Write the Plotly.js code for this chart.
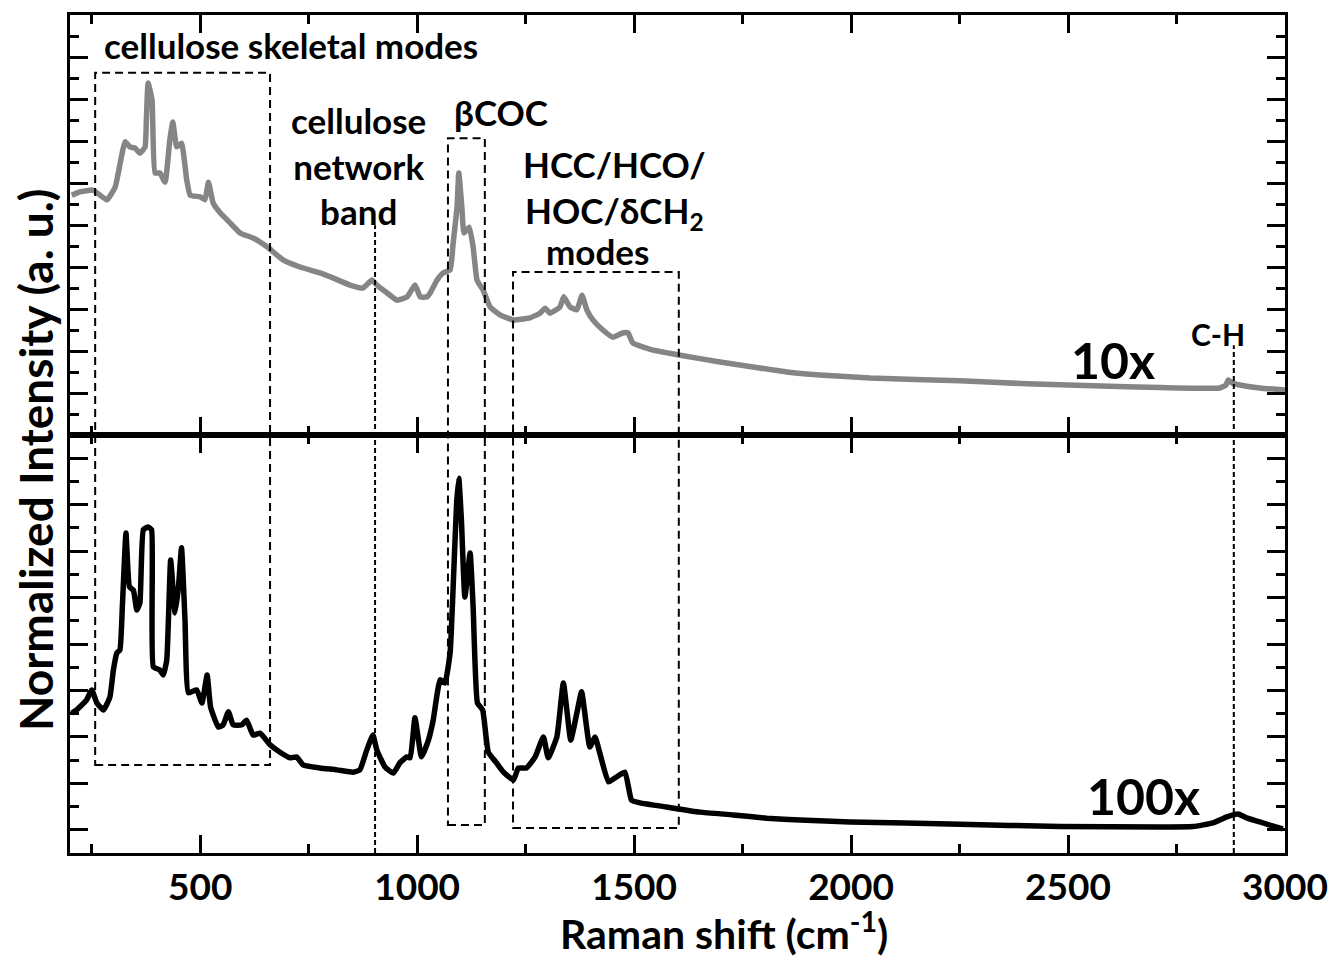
<!DOCTYPE html>
<html>
<head>
<meta charset="utf-8">
<script src="https://cdn.plot.ly/plotly-3.0.1.min.js"></script>
<style>html,body{margin:0;padding:0;background:#fff;}#chart{width:1334px;height:956px;}</style>
</head>
<body>
<div id="chart"></div>
<script>
// Raman shift (cm^-1) and normalized intensity (a.u.) — 10x (grey, upper panel)
const shift10x = [204,223,253,285,304,327,338,350,361,373,376,380,389,396,407,419,430,437,446,457,469,477,500,511,519,530,546,569,592,622,654,691,730,776,806,845,875,896,907,931,954,977,995,1007,1023,1030,1046,1060,1076,1083,1092,1096,1103,1108,1120,1129,1138,1152,1168,1191,1221,1260,1283,1295,1306,1329,1338,1352,1368,1380,1391,1405,1428,1451,1474,1486,1497,1544,1606,1698,1774,1852,1928,2044,2251,2405,2558,2712,2850,2864,2869,2878,2896,2942,3000];
const int10x = [5.71,5.79,5.83,5.60,5.90,6.98,6.86,6.83,6.71,6.86,7.5,8.38,7.98,6.24,6.24,6.02,7.02,7.45,6.86,6.95,6.07,5.71,5.67,5.60,6.02,5.52,5.29,5.05,4.81,4.69,4.48,4.17,4.00,3.86,3.74,3.57,3.50,3.69,3.57,3.38,3.21,3.29,3.57,3.29,3.29,3.38,3.69,3.86,3.93,4.57,5.43,6.24,5.43,4.81,4.95,4.48,3.69,3.45,3.05,2.86,2.74,2.79,2.90,3.02,2.90,3.05,3.29,3.05,2.98,3.33,2.98,2.74,2.50,2.33,2.43,2.43,2.19,2.02,1.90,1.74,1.62,1.50,1.43,1.36,1.29,1.22,1.17,1.13,1.12,1.19,1.31,1.24,1.19,1.12,1.07];

// 100x (black, lower panel)
const shift100x = [204,215,238,250,262,277,292,300,308,315,321,329,337,346,354,361,369,380,388,392,407,415,423,432,442,450,457,465,473,492,504,516,524,542,553,565,576,596,607,622,638,661,684,707,722,738,776,815,853,868,884,898,907,926,945,960,976,984,995,1010,1026,1037,1053,1064,1076,1083,1091,1096,1102,1110,1122,1129,1139,1151,1164,1183,1199,1222,1233,1252,1272,1291,1302,1322,1337,1354,1368,1379,1398,1410,1421,1441,1460,1479,1494,1514,1575,1652,1728,1806,1882,1998,2251,2481,2712,2788,2834,2866,2892,2913,2942,2965,2995];
const int100x = [3.01,3.08,3.29,3.51,3.23,3.08,3.36,3.94,4.31,4.37,5.38,6.89,5.73,5.66,5.23,5.38,6.96,7.02,6.96,4.01,3.94,3.83,4.16,6.31,5.17,5.73,6.57,5.02,3.45,3.51,3.23,3.83,3.14,2.71,2.76,3.04,2.76,2.76,2.86,2.54,2.58,2.33,2.17,2.05,2.07,1.89,1.83,1.79,1.74,1.79,2.22,2.54,2.22,1.85,1.72,1.94,2.07,2.05,2.91,2.07,2.43,2.86,3.73,3.66,4.31,5.73,7.54,8.07,7.17,5.51,6.46,5.30,3.23,3.08,2.17,1.94,1.74,1.57,1.83,1.83,2.07,2.50,2.05,2.50,3.66,2.43,3.01,3.47,2.28,2.50,2.15,1.53,1.64,1.74,1.14,1.08,0.99,0.88,0.82,0.75,0.71,0.67,0.62,0.57,0.56,0.57,0.65,0.78,0.84,0.75,0.67,0.60,0.52];

const xTickVals = [500,1000,1500,2000,2500,3000];
const xTickText = ["500","1000","1500","2000","2500","3000"];

const FONT = 'Lato, "Open Sans", sans-serif';
const bold = (size) => ({family: FONT, size: size, color: '#000', weight: 700});

const traces = [
  {x: shift10x, y: int10x, xaxis: 'x2', yaxis: 'y2', mode: 'lines', line: {color: '#858585', width: 5.5, shape: 'spline', smoothing: 0.4}, hoverinfo: 'skip'},
  {x: shift100x, y: int100x, xaxis: 'x', yaxis: 'y', mode: 'lines', line: {color: '#000', width: 5.5, shape: 'spline', smoothing: 0.4}, hoverinfo: 'skip'}
];

const xCommon = {
  range: [200, 3000], showgrid: false, zeroline: false,
  showline: true, linecolor: '#000', linewidth: 3, mirror: 'ticks',
  ticks: 'inside', ticklen: 18, tickwidth: 3, tickcolor: '#000',
  tickmode: 'array', tickvals: xTickVals, ticktext: xTickText,
  minor: {ticks: 'inside', dtick: 250, tick0: 0, ticklen: 9, tickwidth: 3, tickcolor: '#000', showgrid: false}
};
const yCommon = {
  showgrid: false, zeroline: false, showticklabels: false,
  showline: true, linecolor: '#000', linewidth: 3, mirror: 'ticks',
  ticks: 'inside', ticklen: 18, tickwidth: 3, tickcolor: '#000', fixedrange: true
};

const split = 418/838;
const dashBox = {type: 'rect', xref: 'x', yref: 'paper', line: {color: '#000', width: 2, dash: '8px,5px'}, fillcolor: 'rgba(0,0,0,0)'};
const dashLine = {type: 'line', xref: 'x', yref: 'paper', line: {color: '#000', width: 2, dash: '5px,3px'}};
const note = (text, x, y, size, extra) => Object.assign({text: text, xref: 'x', yref: 'paper', x: x, y: y, xanchor: 'center', yanchor: 'middle', showarrow: false, font: bold(size)}, extra || {});

const layout = {
  width: 1334, height: 956,
  margin: {l: 70, r: 49, t: 15, b: 103, pad: 0},
  paper_bgcolor: '#fff', plot_bgcolor: '#fff',
  showlegend: false,
  font: bold(30),
  xaxis: Object.assign({}, xCommon, {anchor: 'y', domain: [0, 1], tickfont: bold(37)}),
  xaxis2: Object.assign({}, xCommon, {anchor: 'y2', domain: [0, 1], matches: 'x', showticklabels: false}),
  yaxis: Object.assign({}, yCommon, {domain: [0, split], range: [0, 9], tickmode: 'linear', tick0: 0.5, dtick: 1,
    minor: {ticks: 'inside', tick0: 0, dtick: 1, ticklen: 9, tickwidth: 3, tickcolor: '#000', showgrid: false}}),
  yaxis2: Object.assign({}, yCommon, {domain: [split, 1], range: [0, 10], tickmode: 'linear', tick0: 0, dtick: 1,
    minor: {ticks: 'inside', tick0: 0, dtick: 0.5, ticklen: 9, tickwidth: 3, tickcolor: '#000', showgrid: false}}),
  shapes: [
    Object.assign({}, dashBox, {x0: 258, x1: 661, y0: 0.105, y1: 0.931}),
    Object.assign({}, dashBox, {x0: 1071, x1: 1156, y0: 0.0334, y1: 0.853}),
    Object.assign({}, dashBox, {x0: 1221, x1: 1603, y0: 0.0298, y1: 0.6933}),
    Object.assign({}, dashLine, {x0: 903, x1: 903, y0: 0, y1: 0.749}),
    Object.assign({}, dashLine, {x0: 2882, x1: 2882, y0: 0, y1: 0.606})
  ],
  annotations: [
    note('cellulose skeletal modes', 709, 0.964, 35),
    note('cellulose<br>network<br>band', 864, 0.82, 35),
    note('βCOC', 1193, 0.884, 35),
    note('HCC/HCO/<br>HOC/δCH<sub>2</sub>', 1454, 0.792, 35),
    note('modes', 1415, 0.718, 35),
    note('10x', 2604, 0.588, 50),
    note('100x', 2673, 0.068, 50),
    note('C-H', 2846, 0.619, 30),
    note('Normalized Intensity (a. u.)', -0.028, 0.469, 46, {xref: 'paper', textangle: -90}),
    note('Raman shift (cm<sup>-1</sup>)', 0.538, -0.093, 41, {xref: 'paper'})
  ]
};

Plotly.newPlot('chart', traces, layout, {displayModeBar: false, staticPlot: true});
</script>
</body>
</html>
